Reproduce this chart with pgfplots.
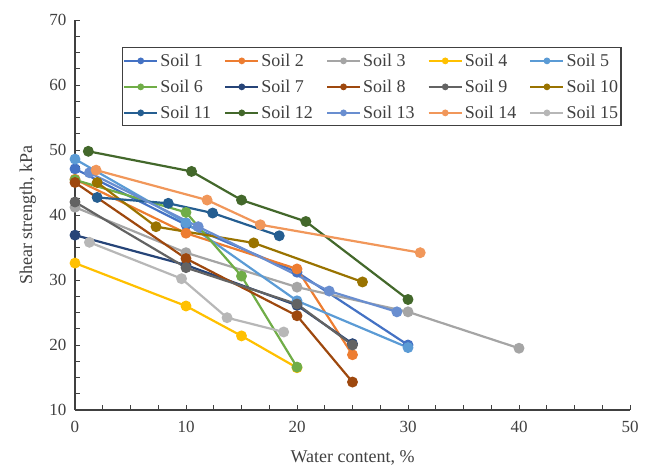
\documentclass[border=0pt]{standalone}
\usepackage{pgfplots}
\pgfplotsset{compat=1.18}
\usepackage{fontspec}
\setmainfont{Liberation Serif}
\definecolor{c1}{HTML}{4472C4}
\definecolor{c2}{HTML}{ED7D31}
\definecolor{c3}{HTML}{A5A5A5}
\definecolor{c4}{HTML}{FFC000}
\definecolor{c5}{HTML}{5B9BD5}
\definecolor{c6}{HTML}{70AD47}
\definecolor{c7}{HTML}{264478}
\definecolor{c8}{HTML}{9E480E}
\definecolor{c9}{HTML}{636363}
\definecolor{c10}{HTML}{997300}
\definecolor{c11}{HTML}{255E91}
\definecolor{c12}{HTML}{43682B}
\definecolor{c13}{HTML}{698ED0}
\definecolor{c14}{HTML}{F1975A}
\definecolor{c15}{HTML}{B7B7B7}
\definecolor{axc}{HTML}{404040}
\begin{document}
\begin{tikzpicture}
\begin{axis}[
  name=ax,
  scale only axis, width=555pt, height=390pt,
  xmin=0, xmax=50, ymin=10, ymax=70,
  xtick={0,10,...,50}, ytick={10,20,...,70},
  minor x tick num=3, minor y tick num=3,
  axis lines=left, axis line style={axc, line width=1.2pt, -},
  tick style={axc, line width=0.9pt},
  tick align=inside,
  major tick length=5pt, minor tick length=5pt,
  /pgf/number format/assume math mode=true,
  ticklabel style={font=\fontsize{17}{20}\selectfont, text=axc},
  xticklabel style={yshift=-8pt},
  yticklabel style={xshift=-5pt},
  xlabel={Water content, \%}, ylabel={Shear strength, kPa},
  every axis x label/.style={at={(axis description cs:0.5,-0.123)}, anchor=center, font=\fontsize{18}{21}\selectfont, text=axc},
  every axis y label/.style={at={(axis description cs:-0.085,0.5)}, anchor=center, rotate=90, font=\fontsize{18}{21}\selectfont, text=axc},
  every axis plot/.append style={line width=2.2pt, mark=*, mark size=4.3pt},
  legend columns=5,
  legend style={at={(0.985,0.93)}, anchor=north east, draw=axc, line width=1.2pt,
    font=\fontsize{18}{20}\selectfont, text=axc, inner xsep=1pt, inner ysep=4pt, row sep=8pt,
    /tikz/every even column/.append style={column sep=11pt}},
  legend cell align=left,
  legend image code/.code={\draw[#1, line width=2.2pt] (0pt,0pt) -- (33pt,0pt); \fill[#1, draw=none] (16.5pt,0pt) circle (3.4pt);},
]
\addplot[c1] coordinates {(0,47.1) (10,38.5) (20,31.2) (30,20.0)};
\addplot[c2] coordinates {(0,45.5) (10,37.2) (20,31.7) (25,18.5)};
\addplot[c3] coordinates {(0,41.2) (10,34.2) (20,28.9) (30,25.1) (40,19.5)};
\addplot[c4] coordinates {(0,32.6) (10,26.0) (15,21.4) (20,16.5)};
\addplot[c5] coordinates {(0,48.6) (10,38.8) (20,26.8) (30,19.6)};
\addplot[c6] coordinates {(0,45.4) (10,40.4) (15,30.6) (20,16.6)};
\addplot[c7] coordinates {(0,36.9) (10,32.3) (20,26.1) (25,20.2)};
\addplot[c8] coordinates {(0,45.0) (10,33.3) (20,24.5) (25,14.3)};
\addplot[c9] coordinates {(0,42.0) (10,31.9) (20,26.3) (25,20.0)};
\addplot[c10] coordinates {(2,45.0) (7.3,38.2) (16.1,35.7) (25.9,29.7)};
\addplot[c11] coordinates {(2,42.7) (8.4,41.8) (12.4,40.3) (18.4,36.8)};
\addplot[c12] coordinates {(1.2,49.8) (10.5,46.7) (15,42.3) (20.8,39.0) (30,27.0)};
\addplot[c13] coordinates {(1.3,46.5) (11.1,38.2) (22.9,28.3) (29,25.1)};
\addplot[c14] coordinates {(1.9,46.9) (11.9,42.3) (16.7,38.5) (31.1,34.2)};
\addplot[c15] coordinates {(1.3,35.8) (9.6,30.2) (13.7,24.2) (18.8,22.0)};
\legend{Soil 1,Soil 2,Soil 3,Soil 4,Soil 5,Soil 6,Soil 7,Soil 8,Soil 9,Soil 10,Soil 11,Soil 12,Soil 13,Soil 14,Soil 15}
\end{axis}
\pgfresetboundingbox
\path ([shift={(-75pt,-57pt)}]ax.south west) rectangle ([shift={(22pt,20pt)}]ax.north east);
\end{tikzpicture}
\end{document}
